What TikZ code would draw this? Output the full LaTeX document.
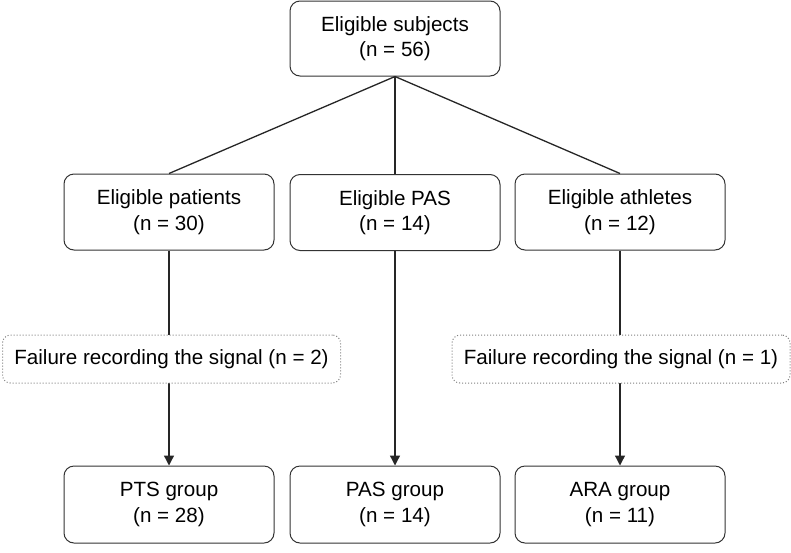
\documentclass[tikz,border=0pt]{standalone}
\usepackage{fontspec}
\setmainfont{Liberation Sans}
\usetikzlibrary{arrows.meta}
\begin{document}
\begin{tikzpicture}[x=1pt,y=-1pt,
  box/.style={draw=black!80, fill=white, rounded corners=10pt, line width=1pt, align=center,
    font=\fontsize{20.6}{25.5}\selectfont, inner sep=0pt, minimum width=210pt, minimum height=76pt},
  failbox/.style={draw=black!50, dotted, fill=white, rounded corners=8pt, line width=1pt, align=center,
    font=\fontsize{20.6}{25.5}\selectfont, inner sep=0pt, minimum width=338pt, minimum height=48pt},
  conn/.style={line width=1.3pt, draw=black!85},
  arr/.style={conn, -{Triangle[length=10pt,width=10pt]}}
]
\useasboundingbox (0,0) rectangle (791,552);
\node[box, minimum height=75pt] (top) at (395,38.5) {Eligible subjects\\(n = 56)};
\node[box] (pat) at (169,212) {Eligible patients\\(n = 30)};
\node[box] (pas) at (395,212.5) {Eligible PAS\\(n = 14)};
\node[box] (ath) at (620,212) {Eligible athletes\\(n = 12)};
\node[box, minimum height=77pt] (pts) at (169,504.5) {PTS group\\(n = 28)};
\node[box, minimum height=77pt] (pasg) at (395,504.5) {PAS group\\(n = 14)};
\node[box, minimum height=77pt] (ara) at (620,504.5) {ARA group\\(n = 11)};
\draw[conn] (top.south) -- (pat.north);
\draw[conn] (top.south) -- (pas.north);
\draw[conn] (top.south) -- (ath.north);
\draw[arr] (pat.south) -- (pts.north);
\draw[arr] (pas.south) -- (pasg.north);
\draw[arr] (ath.south) -- (ara.north);
\node[failbox] (f1) at (171.5,359) {Failure recording the signal (n = 2)};
\node[failbox] (f2) at (621,359) {Failure recording the signal (n = 1)};
\end{tikzpicture}
\end{document}
